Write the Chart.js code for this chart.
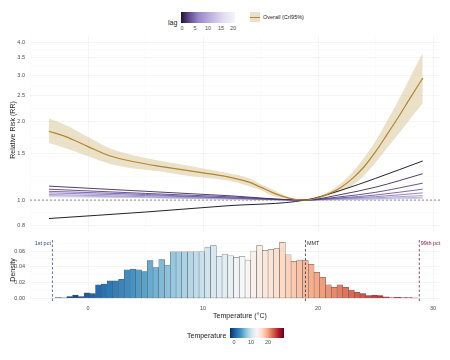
<!DOCTYPE html>
<html>
<head>
<meta charset="utf-8">
<script src="https://cdn.jsdelivr.net/npm/chart.js"></script>
<style>
  body { margin: 0; width: 450px; height: 360px; background: #fff; position: relative; overflow: hidden;
         font-family: "Liberation Sans", Arial, sans-serif; }
  canvas { position: absolute; left: 0; }
  #topChart { top: 36px; }
  #bottomChart { top: 240px; }
  .txt { position: absolute; white-space: nowrap; color: #1a1a1a; line-height: 1; }
  .tick { position: absolute; font-size: 5.5px; color: #4d4d4d; transform: translate(-50%, -50%); line-height: 1; }
  .rot { transform: translate(-50%, -50%) rotate(-90deg); }
</style>
</head>
<body>
<canvas id="topChart" width="450" height="196" style="width:450px;height:196px"></canvas>
<canvas id="bottomChart" width="450" height="72" style="width:450px;height:72px"></canvas>

<!-- top legend -->
<div class="txt" style="left:168px;top:19px;font-size:7px;">lag</div>
<div style="position:absolute;left:181px;top:12px;width:54px;height:11px;
  background:linear-gradient(to right,#1f1232,#5a4688 14%,#9786c8 32%,#c3b7e3 58%,#e4def3 80%,#f6f4fb);"></div>
<div class="tick" style="left:182px;top:29px;">0</div>
<div class="tick" style="left:195px;top:29px;">5</div>
<div class="tick" style="left:208px;top:29px;">10</div>
<div class="tick" style="left:221px;top:29px;">15</div>
<div class="tick" style="left:233px;top:29px;">20</div>
<div style="position:absolute;left:250px;top:12px;width:10px;height:10px;background:#e9e1cc;"></div>
<div style="position:absolute;left:250px;top:16.5px;width:10px;height:1.3px;background:#b3862e;"></div>
<div class="txt" style="left:263px;top:14.5px;font-size:5.5px;">Overall (CrI95%)</div>

<!-- axis titles -->
<div class="txt rot" style="left:12px;top:130px;font-size:7px;">Relative Risk (RR)</div>
<div class="txt rot" style="left:12px;top:270px;font-size:7px;">Density</div>
<div class="txt" style="left:240px;top:315px;font-size:7px;transform:translate(-50%,-50%);">Temperature (°C)</div>

<!-- bottom legend -->
<div class="txt" style="left:187px;top:331.5px;font-size:7px;">Temperature</div>
<div style="position:absolute;left:230px;top:328px;width:54px;height:10px;
  background:linear-gradient(to right,#053061,#2166ac 10%,#4393c3 20%,#92c5de 30%,#d1e5f0 40%,#f7f7f7 50%,#fddbc7 60%,#f4a582 70%,#d6604d 80%,#b2182b 90%,#67001f);"></div>
<div class="tick" style="left:234px;top:343px;">0</div>
<div class="tick" style="left:251px;top:343px;">10</div>
<div class="tick" style="left:268px;top:343px;">20</div>

<script>
// ---- data ----
const temps = [-3.4, -2, 0, 2, 4, 6, 8, 10, 12, 14, 15, 16, 17, 18, 18.9, 20, 21, 22, 23, 24, 25, 26, 27, 28, 29.1];
const overallRR = [1.83, 1.75, 1.60, 1.47, 1.40, 1.35, 1.31, 1.27, 1.23, 1.17, 1.12, 1.07, 1.03, 1.005, 1.0, 1.02, 1.06, 1.12, 1.21, 1.34, 1.53, 1.78, 2.08, 2.45, 2.92];
const overallLow = [1.65, 1.58, 1.47, 1.37, 1.32, 1.29, 1.25, 1.22, 1.19, 1.13, 1.09, 1.04, 1.015, 1.0, 1.0, 1.015, 1.04, 1.08, 1.14, 1.24, 1.39, 1.58, 1.79, 2.04, 2.34];
const overallHigh = [2.05, 1.94, 1.74, 1.57, 1.48, 1.42, 1.37, 1.32, 1.27, 1.21, 1.15, 1.10, 1.045, 1.01, 1.0, 1.025, 1.08, 1.16, 1.28, 1.45, 1.68, 2.01, 2.41, 2.94, 3.65];

const lagTemps = [-3.4, 5, 12, 18.9, 22, 25, 29.1];
const lag0 = [0.85, 0.90, 0.95, 1.0, 1.09, 1.21, 1.41];
const lag1 = [1.13, 1.08, 1.04, 1.0, 1.05, 1.12, 1.26];
const lag2 = [1.10, 1.06, 1.03, 1.0, 1.03, 1.07, 1.16];
const lag3 = [1.08, 1.05, 1.02, 1.0, 1.02, 1.045, 1.10];
const lag4 = [1.065, 1.04, 1.02, 1.0, 1.015, 1.03, 1.065];
const lag5 = [1.05, 1.03, 1.015, 1.0, 1.01, 1.02, 1.04];
const lag6 = [1.04, 1.025, 1.01, 1.0, 1.005, 1.012, 1.025];
const lag7 = [1.03, 1.02, 1.008, 1.0, 1.003, 1.007, 1.015];
const lagCurves = [lag0, lag1, lag2, lag3, lag4, lag5, lag6, lag7];
const lagColours = ['#0b0814', '#3a2a5c', '#523f82', '#6c58a3', '#8775bb', '#a092cc', '#b9addb', '#cfc6e8'];

const yTicksRR = [0.8, 1.0, 1.5, 2.0, 2.5, 3.0, 3.5, 4.0];
const yMinorRR = [0.894, 1.225, 1.732, 2.236, 2.739, 3.24, 3.742];
const xTicks = [0, 10, 20, 30];
const xMinor = [-5, 5, 15, 25];

const binCenters = [-2.6, -2.1, -1.6, -1.1, -0.6, -0.1, 0.4, 0.9, 1.4, 1.9, 2.4, 2.9, 3.4, 3.9, 4.4, 4.9,
  5.4, 5.9, 6.4, 6.9, 7.4, 7.9, 8.4, 8.9, 9.4, 9.9, 10.4, 10.9, 11.4, 11.9, 12.4, 12.9, 13.4, 13.9, 14.4, 14.9,
  15.4, 15.9, 16.4, 16.9, 17.4, 17.9, 18.4, 18.9, 19.4, 19.9, 20.4, 20.9, 21.4, 21.9, 22.4, 22.9, 23.4, 23.9,
  24.4, 24.9, 25.4, 25.9, 26.4, 26.9, 27.4, 27.9, 28.4];
const density = [0.001, 0.0005, 0.002, 0.004, 0.002, 0.007, 0.006, 0.017, 0.018, 0.022, 0.022, 0.024, 0.036, 0.037,
  0.036, 0.034, 0.048, 0.039, 0.049, 0.042, 0.059, 0.059, 0.059, 0.059, 0.059, 0.059, 0.065, 0.067, 0.053, 0.056,
  0.054, 0.052, 0.053, 0.0485, 0.060, 0.067, 0.061, 0.062, 0.063, 0.071, 0.055, 0.047, 0.0485, 0.048, 0.043, 0.033,
  0.0265, 0.017, 0.014, 0.017, 0.014, 0.0105, 0.0075, 0.006, 0.0035, 0.004, 0.0035, 0.0017, 0.001, 0.0013, 0.0008,
  0.0008, 0.0004];
const yTicksDensity = [0, 0.02, 0.04, 0.06];
const yMinorDensity = [0.01, 0.03, 0.05, 0.07];

const pctTemps = [-3.1, 18.9, 28.8];
const pctLabels = ['1st pct', 'MMT', '99th pct'];
const pctColours = ['#2c4f86', '#333333', '#8a1c3c'];

// ---- helpers ----
const X_MIN = -5.05, X_MAX = 30.6;
const rdbu = ['#053061', '#2166ac', '#4393c3', '#92c5de', '#d1e5f0', '#f7f7f7', '#fddbc7', '#f4a582', '#d6604d', '#b2182b', '#67001f'];
function hex(c) { return [1, 3, 5].map(i => parseInt(c.slice(i, i + 2), 16)); }
function tempColour(t) {
  const f = Math.min(1, Math.max(0, (t + 2.6) / 32.4));
  const p = f * (rdbu.length - 1);
  const i = Math.min(Math.floor(p), rdbu.length - 2);
  const a = hex(rdbu[i]), b = hex(rdbu[i + 1]), k = p - i;
  return 'rgb(' + a.map((v, j) => Math.round(v + (b[j] - v) * k)).join(',') + ')';
}
const pts = (xs, ys) => xs.map((x, i) => ({ x: x, y: ys[i] }));
const setTicks = (major, minor) => (scale) => {
  scale.ticks = major.map(v => ({ value: v })).concat(minor.map(v => ({ value: v, minor: true })));
};
const gridCol = (ctx) => (ctx.tick && ctx.tick.minor) ? '#f6f6f6' : '#ebebeb';
// drop chart.js' label overflow padding so the plot fills the canvas
const noPad = (s) => { s.paddingTop = 0; s.paddingBottom = 0; s.paddingLeft = 0; s.paddingRight = 0; };

Chart.defaults.font.family = '"Liberation Sans", Arial, sans-serif';
Chart.defaults.font.size = 5.5;
Chart.defaults.color = '#4d4d4d';

const xScale = (showLabels) => ({
  type: 'linear', min: X_MIN, max: X_MAX, offset: false,
  afterBuildTicks: setTicks(xTicks, xMinor),
  grid: { color: gridCol, lineWidth: 0.5, drawTicks: false, offset: false },
  border: { display: false },
  ticks: { display: showLabels, autoSkip: false, maxRotation: 0, padding: 4,
           callback: (v) => xTicks.includes(v) ? String(v) : '' },
  afterFit: (s) => { s.height = showLabels ? 11 : 0; noPad(s); }
});

// ---- top panel: relative risk ----
const lagSets = lagCurves.map((c, i) => ({
  data: pts(lagTemps, c), borderColor: lagColours[i], borderWidth: 0.9,
  pointRadius: 0, cubicInterpolationMode: 'monotone', order: i + 1
}));

new Chart(document.getElementById('topChart'), {
  type: 'line',
  data: {
    datasets: [
      { data: pts(temps, overallRR), borderColor: '#b3862e', borderWidth: 1.2, pointRadius: 0,
        cubicInterpolationMode: 'monotone', order: 0 },
      ...lagSets,
      { data: [{ x: X_MIN, y: 1 }, { x: X_MAX, y: 1 }], borderColor: '#444', borderWidth: 0.6,
        borderDash: [2, 2], pointRadius: 0, order: 9 },
      { data: pts(temps, overallHigh), borderWidth: 0, pointRadius: 0, cubicInterpolationMode: 'monotone',
        fill: '+1', backgroundColor: 'rgba(214,196,146,0.5)', order: 10 },
      { data: pts(temps, overallLow), borderWidth: 0, pointRadius: 0, cubicInterpolationMode: 'monotone',
        fill: false, order: 11 }
    ]
  },
  options: {
    responsive: false, animation: false, events: [],
    layout: { autoPadding: false, padding: { left: 0, right: 10, top: 0, bottom: 0 } },
    plugins: { legend: { display: false }, tooltip: { enabled: false } },
    scales: {
      x: xScale(false),
      y: {
        type: 'logarithmic', min: 0.755, max: 4.23,
        afterBuildTicks: setTicks(yTicksRR, yMinorRR),
        grid: { color: gridCol, lineWidth: 0.5, drawTicks: false },
        border: { display: false },
        ticks: { padding: 5, autoSkip: false,
                 callback: (v) => yTicksRR.includes(v) ? v.toFixed(1) : '' },
        afterFit: (s) => { s.width = 30; noPad(s); }
      }
    }
  }
});

// ---- bottom panel: temperature histogram ----
const pctLabelPlugin = {
  id: 'pctLabels',
  afterDatasetsDraw(chart) {
    const ctx = chart.ctx, xs = chart.scales.x, top = chart.chartArea.top;
    ctx.save();
    ctx.font = '5.5px "Liberation Sans", Arial, sans-serif';
    ctx.textBaseline = 'middle';
    pctTemps.forEach((t, i) => {
      const px = xs.getPixelForValue(t);
      ctx.fillStyle = pctColours[i];
      if (i === 0) { ctx.textAlign = 'right'; ctx.fillText(pctLabels[i], px - 1.5, top + 3.5); }
      else { ctx.textAlign = 'left'; ctx.fillText(pctLabels[i], px + 1.5, top + 3.5); }
    });
    ctx.restore();
  }
};

const vLines = pctTemps.map((t, i) => ({
  type: 'line', data: [{ x: t, y: -0.0035 }, { x: t, y: 0.074 }], borderColor: pctColours[i],
  borderWidth: 0.8, borderDash: [2.5, 2], pointRadius: 0, order: 0
}));

new Chart(document.getElementById('bottomChart'), {
  type: 'bar',
  data: {
    datasets: [
      { data: pts(binCenters, density), backgroundColor: binCenters.map(tempColour),
        borderColor: '#5a5a5a', borderWidth: 0.5, borderSkipped: false,
        barPercentage: 1, categoryPercentage: 1, order: 5 },
      ...vLines
    ]
  },
  options: {
    responsive: false, animation: false, events: [],
    layout: { autoPadding: false, padding: { left: 0, right: 10, top: 0, bottom: 0 } },
    plugins: { legend: { display: false }, tooltip: { enabled: false } },
    scales: {
      x: xScale(true),
      y: {
        type: 'linear', min: -0.0035, max: 0.074,
        afterBuildTicks: setTicks(yTicksDensity, yMinorDensity),
        grid: { color: gridCol, lineWidth: 0.5, drawTicks: false },
        border: { display: false },
        ticks: { padding: 5, autoSkip: false,
                 callback: (v) => yTicksDensity.includes(v) ? v.toFixed(2) : '' },
        afterFit: (s) => { s.width = 30; noPad(s); }
      }
    }
  },
  plugins: [pctLabelPlugin]
});
</script>
</body>
</html>
